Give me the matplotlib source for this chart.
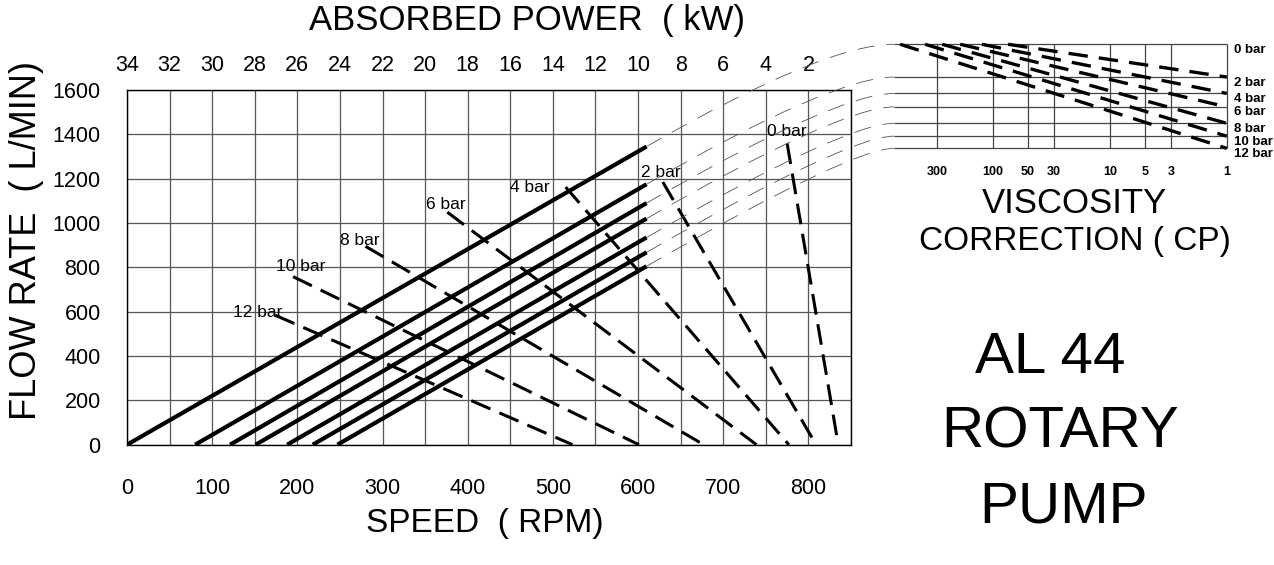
import numpy as np
import matplotlib
matplotlib.use("Agg")
import matplotlib.pyplot as plt
from matplotlib.patches import ConnectionPatch
from matplotlib.ticker import NullLocator

plt.rcParams['font.family'] = ['Liberation Sans', 'DejaVu Sans']
plt.rcParams['lines.scale_dashes'] = False

# pressure (bar) for each curve
pressures = [0, 2, 4, 6, 8, 10, 12]

# flow lines (solid): speed where flow is 0, flow at the end speed
flow_zero_rpm = [0, 80, 121, 151, 188, 218, 247]
flow_end_rpm = 610
flow_end = [1345, 1175, 1090, 1020, 935, 868, 805]

# power lines (thick dashed): upper point and speed at 0 flow
power_top_rpm = [775, 629, 515, 376, 280, 195, 174]
power_top_flow = [1359, 1185, 1162, 1049, 895, 758, 584]
power_zero_rpm = [835, 809, 777, 739, 677, 601, 523]

# "x bar" labels in the main chart
label_rpm = [751, 603, 450, 351, 250, 175, 124]
label_flow = [1413, 1228, 1162, 1085, 922, 803, 597]

# top axis (absorbed power)
power_ticks = [34, 32, 30, 28, 26, 24, 22, 20, 18, 16, 14, 12, 10, 8, 6, 4, 2]
power_tick_rpm = [0, 50, 100, 150, 200, 250, 300, 350, 400, 450, 500, 550, 600, 650, 700, 750, 800]

# viscosity correction
visc_ticks = [300, 100, 50, 30, 10, 5, 3, 1]
visc_left = 700
visc_start = [None, 74, 124, 190, 271, 379, 620]

fig = plt.figure(figsize=(12.74, 5.65), dpi=100)
ax = fig.add_axes([0.0997, 0.2129, 0.5683, 0.6278])
ax.set_xlim(0, 850)
ax.set_ylim(0, 1600)
xt = np.arange(0, 851, 50)
ax.set_xticks(xt, [str(v) if v % 100 == 0 and v <= 800 else '' for v in xt])
ax.set_yticks(np.arange(0, 1601, 200))
ax.tick_params(length=0, labelsize=15.5)
ax.tick_params(axis='x', pad=24)
ax.tick_params(axis='y', pad=19)
ax.grid(True, color='#555555', lw=0.9)
ax.set_axisbelow(True)
for s in ax.spines.values():
    s.set_linewidth(1.0)

for i, p in enumerate(pressures):
    ax.plot([flow_zero_rpm[i], flow_end_rpm], [0, flow_end[i]], color='k', lw=3.0,
            solid_capstyle='butt')
    ax.plot([power_top_rpm[i], power_zero_rpm[i]], [power_top_flow[i], 0], color='k',
            lw=2.2, dashes=(15, 7), dash_capstyle='butt')
    ax.text(label_rpm[i], label_flow[i], f"{p} bar", fontsize=12.5, ha='left', va='center')

axt = ax.twiny()
axt.set_xlim(0, 850)
axt.set_xticks(power_tick_rpm, [str(v) for v in power_ticks])
axt.tick_params(length=0, labelsize=15.5, pad=10)
for s in axt.spines.values():
    s.set_visible(False)

# viscosity correction chart
ax2 = fig.add_axes([0.7017, 0.7375, 0.2612, 0.1841])
ax2.set_xscale('log')
ax2.set_xlim(visc_left, 1)
ax2.set_ylim(flow_end[-1], flow_end[0])
ax2.xaxis.set_minor_locator(NullLocator())
ax2.set_xticks(visc_ticks, [str(v) for v in visc_ticks])
ax2.set_yticks([])
ax2.tick_params(length=0, labelsize=9, pad=13)
for lab in ax2.get_xticklabels():
    lab.set_fontweight('bold')
for s in ax2.spines.values():
    s.set_visible(False)
ax2.patch.set_alpha(0)
ax2.vlines(visc_ticks, flow_end[-1], flow_end[0], color='#444444', lw=0.9, clip_on=False)
ax2.hlines(flow_end, visc_left, 1, color='#444444', lw=0.9, clip_on=False)
for i, p in enumerate(pressures):
    if visc_start[i] is not None:
        ax2.plot([visc_start[i], 1], [flow_end[0], flow_end[i]], color='k', lw=2.4,
                 dashes=(14, 8), dash_capstyle='butt', clip_on=False)
    ax2.annotate(f"{p} bar", xy=(1, flow_end[i]), xytext=(5, -4),
                 textcoords='offset points', fontsize=9.5, fontweight='bold',
                 ha='left', va='center')

# thin dashed links from flow lines to viscosity chart
pa = ax.transData.transform((flow_zero_rpm[0], 0))
pb = ax.transData.transform((flow_end_rpm, flow_end[0]))
angle = np.degrees(np.arctan2(pb[1] - pa[1], pb[0] - pa[0]))
for i in range(len(pressures)):
    cp = ConnectionPatch(xyA=(flow_end_rpm, flow_end[i]), coordsA=ax.transData,
                         xyB=(visc_left, flow_end[i]), coordsB=ax2.transData,
                         connectionstyle=f"angle3,angleA={angle:.1f},angleB=0",
                         color='#555555', lw=0.6, linestyle=(0, (12, 9)),
                         shrinkA=0, shrinkB=0)
    fig.add_artist(cp)

fig.text(0.4137, 0.9646, "ABSORBED POWER  ( kW)", fontsize=25, ha='center', va='center')
fig.text(0.3807, 0.0726, "SPEED  ( RPM)", fontsize=24, ha='center', va='center')
fig.text(0.021, 0.575, "FLOW RATE  ( L/MIN)", fontsize=26, rotation=90,
         ha='center', va='center')
fig.text(0.843, 0.640, "VISCOSITY", fontsize=25, ha='center', va='center')
fig.text(0.844, 0.5717, "CORRECTION ( CP)", fontsize=24, ha='center', va='center')
fig.text(0.824, 0.366, "AL 44", fontsize=42, ha='center', va='center')
fig.text(0.832, 0.2352, "ROTARY", fontsize=42, ha='center', va='center')
fig.text(0.835, 0.1025, "PUMP", fontsize=42, ha='center', va='center')

fig.savefig('out.png', dpi=100)
